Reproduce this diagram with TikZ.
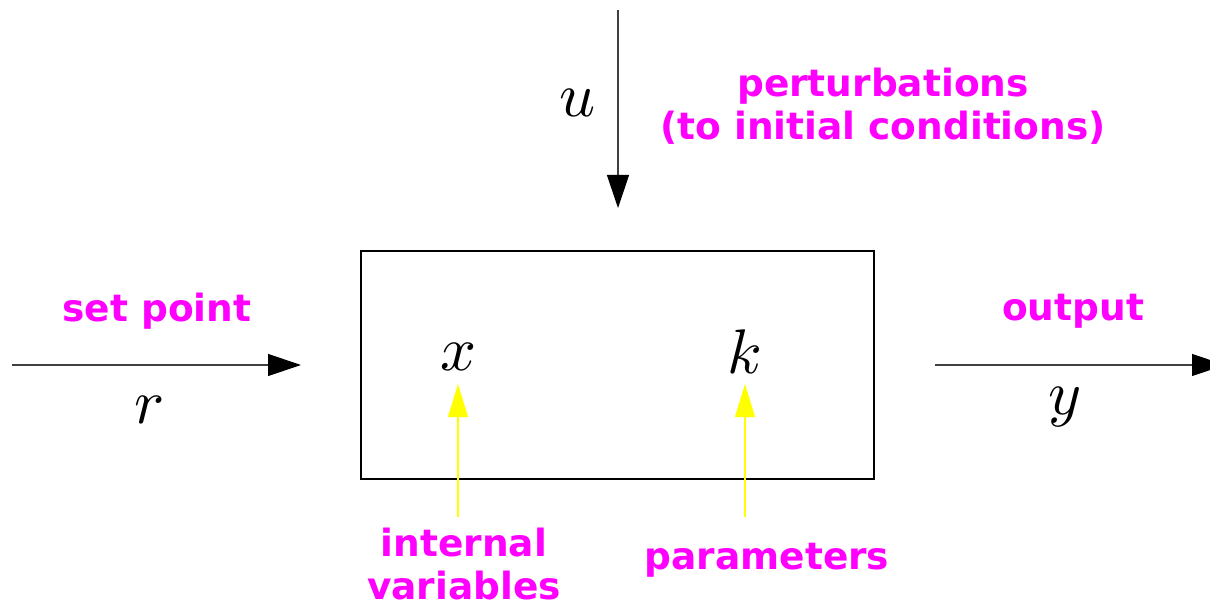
\documentclass[tikz,border=0pt]{standalone}
\usepackage{fontspec}
\setmainfont{DejaVu Sans}
\usetikzlibrary{arrows.meta}
\definecolor{mag}{RGB}{255,0,255}
\definecolor{yel}{RGB}{255,255,0}
\newcommand{\mybigmath}[1]{\scalebox{6.3}{$#1$}}
\tikzset{
  lab/.style={text=mag, font=\fontsize{37.5}{43}\selectfont\bfseries, align=center, inner sep=0pt},
  mathlab/.style={inner sep=0pt},
  blk/.style={draw=black!75, line width=1.2pt, -{Triangle[length=33pt,width=22pt,color=black,fill=black]}},
  yarr/.style={draw=yel, line width=1.3pt, -{Triangle[length=33pt,width=20pt]}},
  sysbox/.style={draw=black, line width=1.2pt, minimum width=513pt, minimum height=228pt, inner sep=0pt}
}
\begin{document}
\begin{tikzpicture}[x=1pt,y=-1pt]
\clip (0,0) rectangle (1210,604);
\node[sysbox] (box) at (617.5,365) {};
% top input
\coordinate (ustart) at (618,10);
\coordinate (uend) at (618,208);
\draw[blk] (ustart) -- (uend);
\node[mathlab] (u) at (578,103) {\mybigmath{u}};
\node[lab] (pert) at (883,106) {perturbations\\(to initial conditions)};
% left input
\coordinate (rstart) at (12,365);
\coordinate (rend) at (301,365);
\draw[blk] (rstart) -- (rend);
\node[lab] (sp) at (157,311) {set point};
\node[mathlab] (r) at (150,410) {\mybigmath{r}};
% right output
\coordinate (ystart) at (935,365);
\coordinate (yend) at (1225,365);
\draw[blk] (ystart) -- (yend);
\node[lab] (out) at (1073,311) {output};
\node[mathlab] (y) at (1065,407) {\mybigmath{y}};
% internal
\node[mathlab] (x) at (458,357) {\mybigmath{x}};
\node[mathlab] (k) at (745,352) {\mybigmath{k}};
\coordinate (xa) at (458,517);
\coordinate (xb) at (458,384);
\coordinate (ka) at (745,517);
\coordinate (kb) at (745,384);
\draw[yarr] (xa) -- (xb);
\draw[yarr] (ka) -- (kb);
\node[lab] (iv) at (464,564) {internal\\variables};
\node[lab] (par) at (767,560) {parameters};
\end{tikzpicture}
\end{document}
